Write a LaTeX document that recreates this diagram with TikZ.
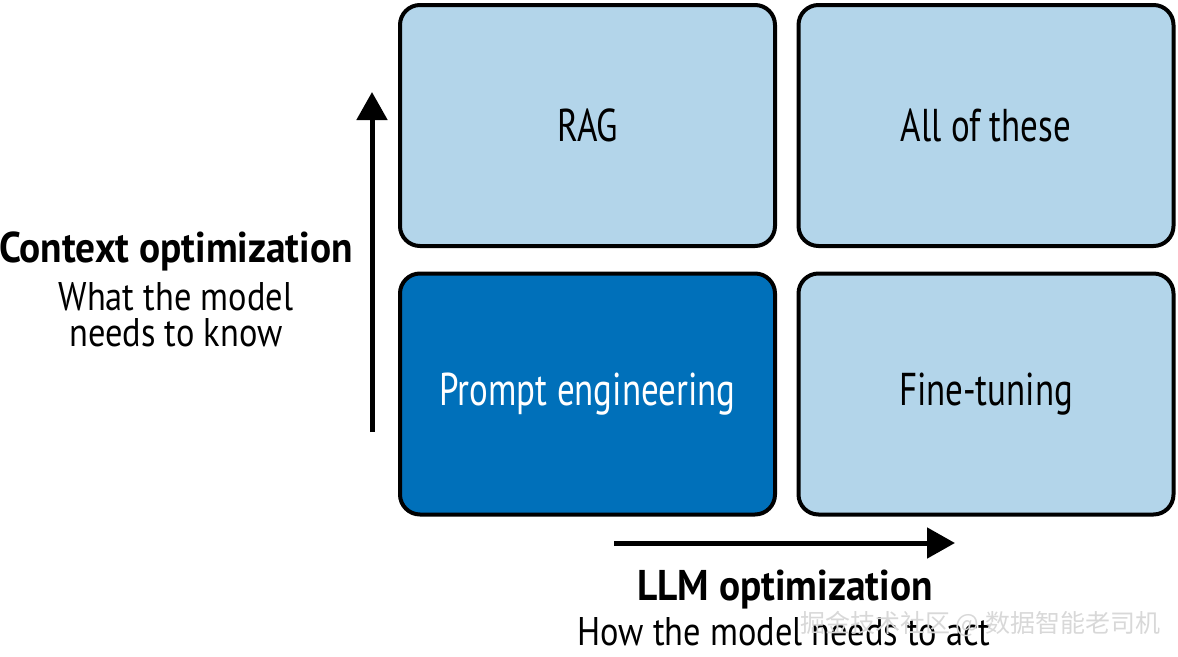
\documentclass[tikz,border=0pt]{standalone}
\usepackage{fontspec}
\setmainfont{PT Sans}[FakeStretch=0.86]
\newfontfamily\labelfont{PT Sans}[FakeStretch=0.76]
\newfontfamily\titlefont{PT Sans}[FakeStretch=0.915]
\newfontfamily\cjk{Noto Sans CJK SC}
\usetikzlibrary{arrows.meta}
\definecolor{lightblue}{HTML}{B3D5EA}
\definecolor{darkblue}{HTML}{0070BA}
\definecolor{wm}{HTML}{D8D8D8}
\begin{document}
\begin{tikzpicture}[x=1pt,y=-1pt,
  quad/.style={draw=black, line width=4pt, rounded corners=20pt, minimum width=375pt, minimum height=241pt, inner sep=0pt, font=\labelfont\fontsize{46}{50}\selectfont},
  axis/.style={line width=5pt, -{Triangle[length=28pt,width=30pt]}},
  title/.style={anchor=base, inner sep=0pt, font=\titlefont\bfseries\fontsize{43}{48}\selectfont},
  sub/.style={anchor=base, inner sep=0pt, font=\fontsize{40}{44}\selectfont}]
\useasboundingbox (0,0) rectangle (1178,656);
\node[quad, fill=lightblue] (rag) at (587.5,125.5) {RAG};
\node[quad, fill=lightblue] (all) at (986,125.5) {All of these};
\node[quad, fill=darkblue, text=white] (prompt) at (587.5,394) {Prompt engineering};
\node[quad, fill=lightblue] (fine) at (986,394) {Fine-tuning};
\coordinate (vb) at (372,432);
\coordinate (vt) at (372,92);
\coordinate (hl) at (614,543);
\coordinate (hr) at (955,543);
\draw[axis] (vb) -- (vt);
\draw[axis] (hl) -- (hr);
\node[title] (ctx) at (176,262) {Context optimization};
\node[sub] (ctx1) at (176,310) {What the model};
\node[sub] (ctx2) at (176,346) {needs to know};
\node[title] (llm) at (785,600) {LLM optimization};
\node[sub] (llm1) at (784,645) {How the model needs to act};
\node[anchor=base west, inner sep=0pt, text=wm, font=\cjk\fontsize{25}{28}\selectfont] (wmark) at (800,632) {掘金技术社区 @ 数据智能老司机};
\end{tikzpicture}
\end{document}
